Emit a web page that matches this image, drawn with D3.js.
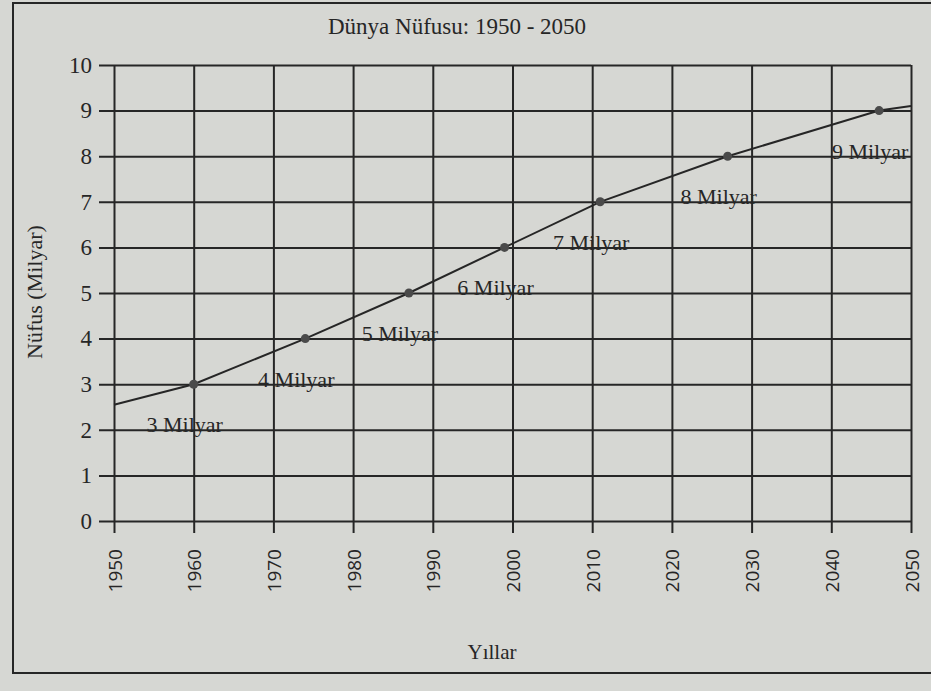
<!DOCTYPE html>
<html>
<head>
<meta charset="utf-8">
<script src="https://cdn.jsdelivr.net/npm/d3@7"></script>
<style>
  body { margin: 0; background: #d6d7d3; }
  svg { display: block; }
</style>
</head>
<body>
<svg id="chart"></svg>
<script>
const width = 931;
const height = 691;

// data
const years = [1950, 1960, 1974, 1987, 1999, 2011, 2027, 2046, 2050];
const population = [2.55, 3, 4, 5, 6, 7, 8, 9, 9.1];
const milestoneYears = [1960, 1974, 1987, 1999, 2011, 2027, 2046];
const milestoneValues = [3, 4, 5, 6, 7, 8, 9];
const milestoneLabels = ['3 Milyar', '4 Milyar', '5 Milyar', '6 Milyar', '7 Milyar', '8 Milyar', '9 Milyar'];
const xTicks = [1950, 1960, 1970, 1980, 1990, 2000, 2010, 2020, 2030, 2040, 2050];
const yTicks = [0, 1, 2, 3, 4, 5, 6, 7, 8, 9, 10];

const ink = '#262626';
const serif = '"Liberation Serif", "DejaVu Serif", serif';

const plotLeft = 114, plotRight = 911, plotTop = 65, plotBottom = 521;

const svg = d3.select('#chart')
    .attr('width', width)
    .attr('height', height);

// page frame
svg.append('rect')
    .attr('x', 13).attr('y', 3)
    .attr('width', 960).attr('height', 670)
    .attr('fill', 'none')
    .attr('stroke', ink)
    .attr('stroke-width', 2);

const x = d3.scaleLinear().domain([1950, 2050]).range([plotLeft, plotRight]);
const y = d3.scaleLinear().domain([0, 10]).range([plotBottom, plotTop]);

// horizontal grid + y labels (axis sits on the right edge, ticks run left)
const yAxis = svg.append('g')
    .attr('transform', `translate(${plotRight},0)`)
    .call(d3.axisLeft(y).tickValues(yTicks).tickSize(plotRight - plotLeft + 15).tickPadding(7));
yAxis.select('.domain').remove();
yAxis.selectAll('line').attr('stroke', ink).attr('stroke-width', 2);
yAxis.selectAll('text')
    .attr('fill', ink)
    .style('font-family', serif)
    .style('font-size', '23px');

// vertical grid + rotated year labels
const xAxis = svg.append('g')
    .attr('transform', `translate(0,${plotTop})`)
    .call(d3.axisBottom(x).tickValues(xTicks).tickFormat(d3.format('d')).tickSize(plotBottom - plotTop + 12));
xAxis.select('.domain').remove();
xAxis.selectAll('line').attr('stroke', ink).attr('stroke-width', 2);
xAxis.selectAll('text')
    .attr('fill', ink)
    .attr('text-anchor', 'end')
    .attr('dy', null)
    .attr('y', 0)
    .attr('transform', `translate(7,${plotBottom - plotTop + 28}) rotate(-90)`)
    .style('font-family', '"Open Sans", "Liberation Sans", sans-serif')
    .style('font-size', '19px');

// population line
const line = d3.line()
    .x((d, i) => x(years[i]))
    .y(d => y(d));

svg.append('path')
    .datum(population)
    .attr('fill', 'none')
    .attr('stroke', ink)
    .attr('stroke-width', 2)
    .attr('d', line);

svg.selectAll('circle.dot')
    .data(milestoneValues)
    .enter()
    .append('circle')
    .attr('class', 'dot')
    .attr('cx', (d, i) => x(milestoneYears[i]))
    .attr('cy', d => y(d))
    .attr('r', 4.5)
    .attr('fill', '#4a4a4a');

svg.selectAll('text.milestone')
    .data(milestoneLabels)
    .enter()
    .append('text')
    .attr('class', 'milestone')
    .attr('x', (d, i) => x(milestoneYears[i]) - 9)
    .attr('y', (d, i) => y(milestoneValues[i]) + 48)
    .attr('text-anchor', 'middle')
    .attr('fill', ink)
    .style('font-family', serif)
    .style('font-size', '22px')
    .text(d => d);

// title and axis titles
svg.append('text')
    .attr('x', 457).attr('y', 34)
    .attr('text-anchor', 'middle')
    .attr('fill', ink)
    .style('font-family', serif)
    .style('font-size', '23px')
    .text('Dünya Nüfusu: 1950 - 2050');

svg.append('text')
    .attr('transform', 'translate(42,292) rotate(-90)')
    .attr('text-anchor', 'middle')
    .attr('fill', ink)
    .style('font-family', serif)
    .style('font-size', '22px')
    .text('Nüfus (Milyar)');

svg.append('text')
    .attr('x', 492).attr('y', 659)
    .attr('text-anchor', 'middle')
    .attr('fill', ink)
    .style('font-family', serif)
    .style('font-size', '21px')
    .text('Yıllar');
</script>
</body>
</html>
